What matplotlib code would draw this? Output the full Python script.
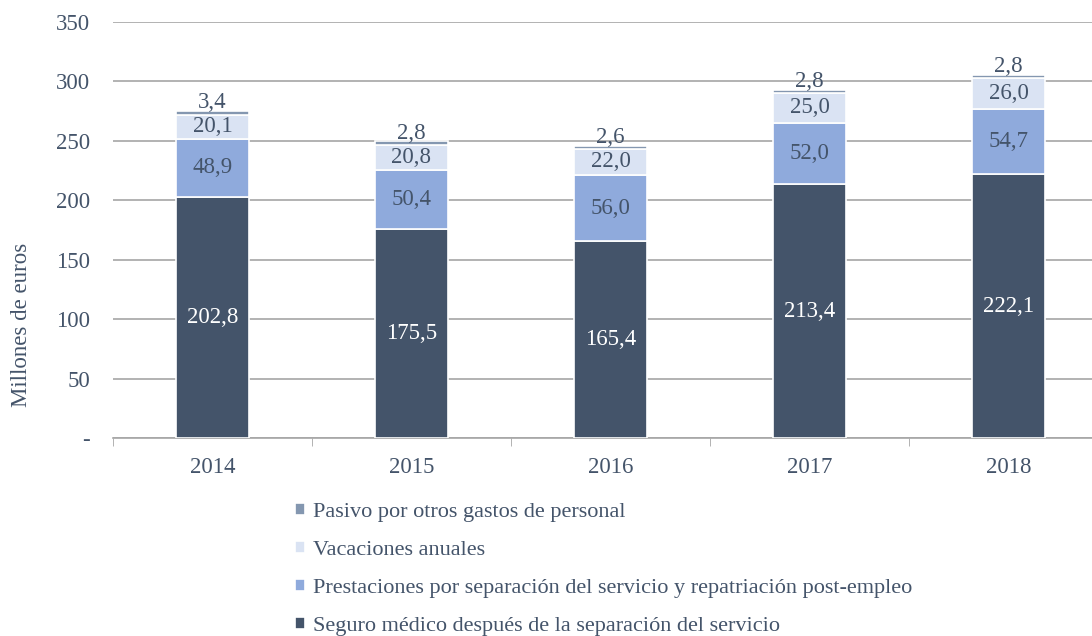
import matplotlib.pyplot as plt
import numpy as np

years = ['2014', '2015', '2016', '2017', '2018']
seguro = [202.8, 175.5, 165.4, 213.4, 222.1]
prestaciones = [48.9, 50.4, 56.0, 52.0, 54.7]
vacaciones = [20.1, 20.8, 22.0, 25.0, 26.0]
pasivo = [3.4, 2.8, 2.6, 2.8, 2.8]

names = ['Seguro médico después de la separación del servicio',
         'Prestaciones por separación del servicio y repatriación post-empleo',
         'Vacaciones anuales',
         'Pasivo por otros gastos de personal']
colors = ['#44546A', '#8FAADC', '#DAE3F3', '#8497B0']
txt = '#44546A'

plt.rcParams['font.family'] = ['Liberation Serif', 'DejaVu Serif']

fig = plt.figure(figsize=(10.92, 6.36), dpi=100)
ax = fig.add_axes([113/1092, 198/636, 995/1092, 416/636])

x = np.arange(len(years))
w = 0.367
series = [seguro, prestaciones, vacaciones, pasivo]
bottom = np.zeros(len(years))
bars = []
for vals, c, n in zip(series, colors, names):
    b = ax.bar(x, vals, w, bottom=bottom, color=c, edgecolor='white',
               linewidth=1.2, label=n, zorder=3)
    bars.append(b)
    bottom += np.array(vals)

def fmt(v):
    return f'{v:.1f}'.replace('.', ',')

fs = 16.5
for i in range(len(years)):
    b0 = 0
    for k, vals in enumerate(series):
        v = vals[i]
        if k == 3:
            ax.text(x[i], b0 + v - 2, fmt(v), ha='center', va='bottom',
                    fontsize=fs, color=txt)
        else:
            col = 'white' if k == 0 else txt
            ax.text(x[i], b0 + v / 2, fmt(v), ha='center', va='center',
                    fontsize=fs, color=col)
        b0 += v

ax.set_xlim(-0.5, 4.5)
ax.set_ylim(0, 350)
ax.set_yticks(range(0, 351, 50))
ax.set_yticklabels(['-'] + [str(v) for v in range(50, 351, 50)])
ax.set_xticks(x)
ax.set_xticklabels(years)
ax.set_xticks(np.arange(-0.5, 5, 1), minor=True)
ax.tick_params(axis='x', which='major', length=0, pad=14, labelsize=fs, colors=txt)
ax.tick_params(axis='x', which='minor', length=6, color='#A6A6A6', direction='out')
ax.tick_params(axis='y', length=0, pad=16.5, labelsize=fs, colors=txt)
ax.yaxis.grid(True, color='#A6A6A6', linewidth=1.2, zorder=0)
for s in ['top', 'right', 'left']:
    ax.spines[s].set_visible(False)
ax.spines['bottom'].set_color('#A6A6A6')
ax.spines['bottom'].set_linewidth(1.2)
fig.text(22/1092, 1 - 325/636, 'Millones de euros', rotation=90, ha='center',
         va='center', fontsize=fs, color=txt)

h = [bars[3], bars[2], bars[1], bars[0]]
l = [names[3], names[2], names[1], names[0]]
fig.legend(h, l, loc='upper left', bbox_to_anchor=(286/1092, 1 - 494/636),
           frameon=False, fontsize=16, handlelength=0.45, handleheight=0.45,
           handletextpad=0.35, labelspacing=0.85, labelcolor=txt,
           borderaxespad=0)

fig.savefig('out.png', dpi=100)
